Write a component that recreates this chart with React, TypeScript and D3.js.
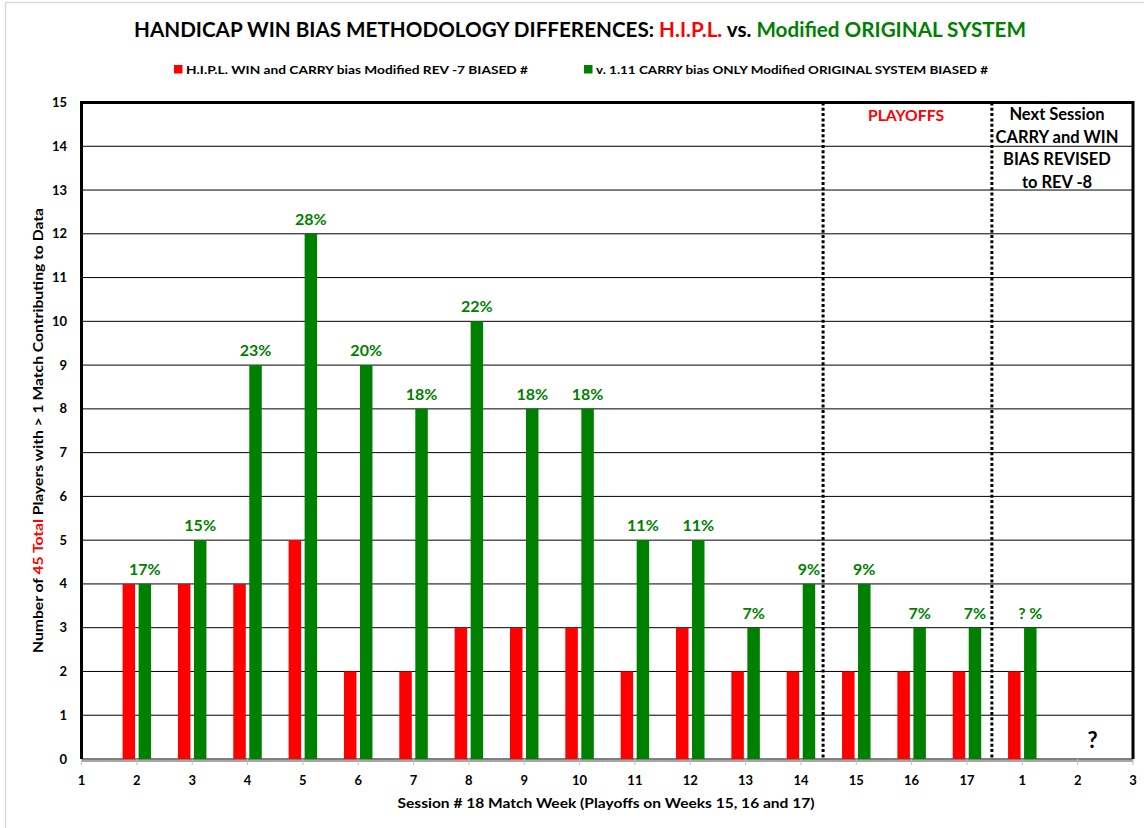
import React from "react";
import * as d3 from "d3";

const weekLabels = ["1", "2", "3", "4", "5", "6", "7", "8", "9", "10", "11", "12", "13", "14", "15", "16", "17", "1", "2", "3"];
const hiplValues: (number | null)[] = [null, 4, 4, 4, 5, 2, 2, 3, 3, 3, 2, 3, 2, 2, 2, 2, 2, 2, null, null];
const originalValues: (number | null)[] = [null, 4, 5, 9, 12, 9, 8, 10, 8, 8, 5, 5, 3, 4, 4, 3, 3, 3, null, null];
const pctLabels: (string | null)[] = [null, "17%", "15%", "23%", "28%", "20%", "18%", "22%", "18%", "18%", "11%", "11%", "7%", "9%", "9%", "7%", "7%", "? %", null, null];
const yTicks = d3.range(0, 16);
const dividerPositions = [13.4, 16.45];
const nextSessionLines = ["Next Session", "CARRY and WIN", "BIAS REVISED", "to REV -8"];

const RED = "#ff0000";
const GREEN = "#008000";
const FONT = "Lato, 'Open Sans', sans-serif";

export default function App() {
  const left = 81.5, right = 1133, top = 102.5, bottom = 759;
  const x = d3.scaleLinear().domain([0, weekLabels.length - 1]).range([left, right]);
  const y = d3.scaleLinear().domain([0, 15]).range([bottom, top]);
  const barW = 12.5;
  const gap = 1.75;

  return (
    <svg width={1144} height={828} style={{ position: "absolute", left: 0, top: 0, background: "#fff" }} fontFamily={FONT} fontWeight={700}>
      <rect x={5.5} y={2.5} width={1200} height={900} fill="#fff" stroke="#d9d9d9" strokeWidth={1.5} />

      {/* Title */}
      <text x={134} y={37} fontSize={20.5} textLength={892} lengthAdjust="spacingAndGlyphs" fill="#000">
        {"HANDICAP WIN BIAS METHODOLOGY DIFFERENCES: "}
        <tspan fill={RED}>H.I.P.L.</tspan>
        {" vs. "}
        <tspan fill={GREEN}>Modified ORIGINAL SYSTEM</tspan>
      </text>

      {/* Legend */}
      <rect x={174} y={65} width={8.5} height={8.5} fill={RED} />
      <text x={186} y={74} fontSize={11.5} textLength={342} lengthAdjust="spacingAndGlyphs">H.I.P.L. WIN and CARRY bias Modified REV -7 BIASED #</text>
      <rect x={584} y={65} width={8.5} height={8.5} fill={GREEN} />
      <text x={596} y={74} fontSize={11.5} textLength={392} lengthAdjust="spacingAndGlyphs">v. 1.11 CARRY bias ONLY Modified ORIGINAL SYSTEM BIASED #</text>

      {/* Gridlines */}
      {yTicks.map((t) => (
        <line key={"g" + t} x1={left} x2={right} y1={y(t)} y2={y(t)} stroke="#000" strokeWidth={1} />
      ))}

      {/* Bars */}
      {hiplValues.map((v, i) =>
        v == null ? null : (
          <rect key={"r" + i} x={x(i) - gap - barW} y={y(v)} width={barW} height={bottom - y(v)} fill={RED} />
        )
      )}
      {originalValues.map((v, i) =>
        v == null ? null : (
          <rect key={"gr" + i} x={x(i) + gap} y={y(v)} width={barW} height={bottom - y(v)} fill={GREEN} />
        )
      )}

      {/* Percent labels */}
      {pctLabels.map((p, i) =>
        p == null || originalValues[i] == null ? null : (
          <text key={"p" + i} x={x(i) + gap + barW / 2} y={y(originalValues[i] as number) - 9} fontSize={16} fill={GREEN} textAnchor="middle">
            {p}
          </text>
        )
      )}

      {/* Dotted dividers */}
      {dividerPositions.map((d, i) => (
        <line key={"d" + i} x1={x(d)} x2={x(d)} y1={top} y2={bottom} stroke="#000" strokeWidth={3} strokeDasharray="3 2.3" />
      ))}

      {/* Plot border */}
      <path d={`M${left},${bottom} V${top} H${right} V${bottom}`} fill="none" stroke="#000" strokeWidth={3} />
      {/* Bottom axis */}
      <line x1={left} x2={right} y1={bottom + 2} y2={bottom + 2} stroke="#a6a6a6" strokeWidth={2} />
      {weekLabels.map((_, i) => (
        <line key={"tk" + i} x1={x(i)} x2={x(i)} y1={bottom} y2={bottom + 6} stroke="#bfbfbf" strokeWidth={1} />
      ))}

      {/* Y tick labels */}
      {yTicks.map((t) => (
        <text key={"yl" + t} x={67} y={y(t) + 4.5} fontSize={13} textAnchor="end" fill="#000">
          {t}
        </text>
      ))}

      {/* X tick labels */}
      {weekLabels.map((l, i) => (
        <text key={"xl" + i} x={x(i)} y={785} fontSize={13} textAnchor="middle" fill="#000">
          {l}
        </text>
      ))}

      {/* Axis titles */}
      <text x={606} y={808} fontSize={13.5} textAnchor="middle" textLength={417} lengthAdjust="spacingAndGlyphs">
        Session # 18 Match Week (Playoffs on Weeks 15, 16 and 17)
      </text>
      <text transform="translate(43,430.5) rotate(-90)" fontSize={13.5} textAnchor="middle" textLength={445} lengthAdjust="spacingAndGlyphs">
        {"Number of "}
        <tspan fill={RED}>45 Total</tspan>
        {" Players with > 1 Match Contributing to Data"}
      </text>

      {/* Annotations */}
      <text x={906} y={121} fontSize={15} fill={RED} textAnchor="middle" textLength={76} lengthAdjust="spacingAndGlyphs">
        PLAYOFFS
      </text>
      {nextSessionLines.map((l, i) => (
        <text key={"ns" + i} x={1057} y={120 + i * 22.7} fontSize={16.5} textAnchor="middle" fill="#000">
          {l}
        </text>
      ))}
      <text x={x(18) + 15} y={748} fontSize={22} textAnchor="middle" fill="#000">
        ?
      </text>
    </svg>
  );
}
